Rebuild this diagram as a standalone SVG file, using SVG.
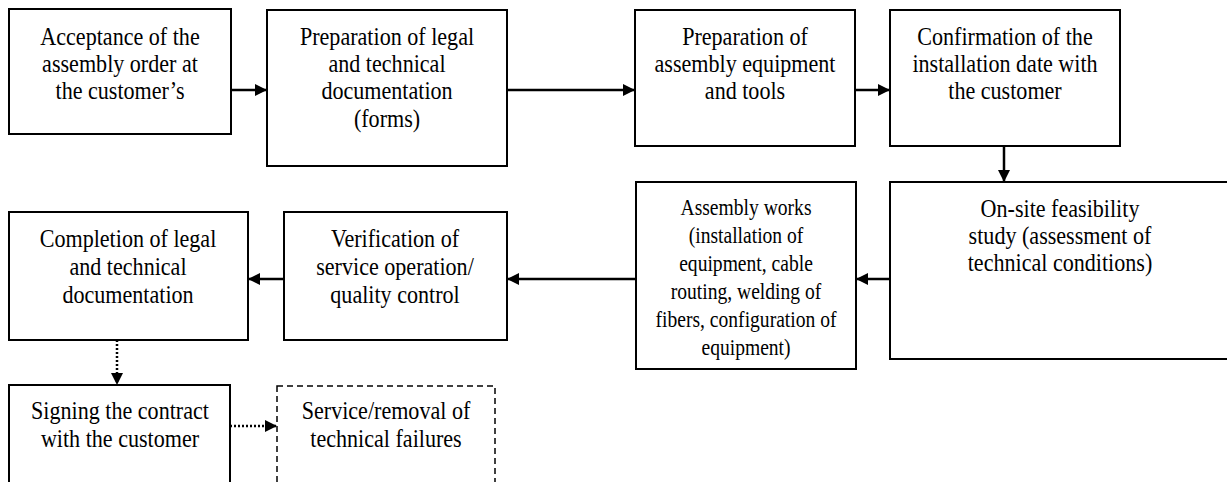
<svg xmlns="http://www.w3.org/2000/svg" width="1227" height="482" viewBox="0 0 1227 482">
<style>
.box{fill:#fff;stroke:#000;stroke-width:2}
.dash{fill:#fff;stroke:#000;stroke-width:1.5;stroke-dasharray:6,4}
text{font-family:"Liberation Serif","Times New Roman",serif;font-size:26px;fill:#000;text-anchor:middle}
.sm{font-size:22.5px}
.c{fill:none;stroke:#000;stroke-width:2.5}
.d{fill:none;stroke:#000;stroke-width:2.5;stroke-dasharray:2,2}
</style>
<defs>
<marker id="ah" viewBox="0 0 12 12" refX="12" refY="6" markerWidth="12" markerHeight="12" markerUnits="userSpaceOnUse" orient="auto">
<path d="M0,0L12,6L0,12z" fill="#000"/>
</marker>
</defs>
<g id="connectors">
<line class="c" x1="231" y1="90" x2="267" y2="90" marker-end="url(#ah)"/>
<line class="c" x1="507" y1="90" x2="635" y2="90" marker-end="url(#ah)"/>
<line class="c" x1="855" y1="90" x2="890" y2="90" marker-end="url(#ah)"/>
<line class="c" x1="1004" y1="146" x2="1004" y2="182" marker-end="url(#ah)"/>
<line class="c" x1="890" y1="279" x2="856" y2="279" marker-end="url(#ah)"/>
<line class="c" x1="636" y1="279" x2="507" y2="279" marker-end="url(#ah)"/>
<line class="c" x1="284" y1="279" x2="248" y2="279" marker-end="url(#ah)"/>
<line class="d" x1="117" y1="340" x2="117" y2="385" marker-end="url(#ah)"/>
<line class="d" x1="230" y1="426" x2="277" y2="426" marker-end="url(#ah)"/>
</g>
<g id="n1">
<rect class="box" x="9" y="9" width="222" height="125"/>
<g transform="translate(120 0) scale(0.85 1)">
<text x="0" y="45">Acceptance of the</text>
<text x="0" y="72">assembly order at</text>
<text x="0" y="99">the customer’s</text>
</g>
</g>
<g id="n2">
<rect class="box" x="267" y="10" width="240" height="156"/>
<g transform="translate(387 0) scale(0.85 1)">
<text x="0" y="45">Preparation of legal</text>
<text x="0" y="72">and technical</text>
<text x="0" y="99">documentation</text>
<text x="0" y="127">(forms)</text>
</g>
</g>
<g id="n3">
<rect class="box" x="635" y="10" width="220" height="136"/>
<g transform="translate(745 0) scale(0.85 1)">
<text x="0" y="45">Preparation of</text>
<text x="0" y="72">assembly equipment</text>
<text x="0" y="99">and tools</text>
</g>
</g>
<g id="n4">
<rect class="box" x="890" y="10" width="230" height="136"/>
<g transform="translate(1005 0) scale(0.85 1)">
<text x="0" y="45">Confirmation of the</text>
<text x="0" y="72">installation date with</text>
<text x="0" y="99">the customer</text>
</g>
</g>
<g id="n5">
<rect class="box" x="890" y="182" width="345" height="177"/>
<g transform="translate(1060 0) scale(0.85 1)">
<text x="0" y="217">On-site feasibility</text>
<text x="0" y="244">study (assessment of</text>
<text x="0" y="271">technical conditions)</text>
</g>
</g>
<g id="n6">
<rect class="box" x="636" y="182" width="220" height="187"/>
<g transform="translate(746 0) scale(0.87 1)">
<text class="sm" x="0" y="215">Assembly works</text>
<text class="sm" x="0" y="243">(installation of</text>
<text class="sm" x="0" y="271">equipment, cable</text>
<text class="sm" x="0" y="299">routing, welding of</text>
<text class="sm" x="0" y="327">fibers, configuration of</text>
<text class="sm" x="0" y="355">equipment)</text>
</g>
</g>
<g id="n7">
<rect class="box" x="284" y="212" width="223" height="128"/>
<g transform="translate(395 0) scale(0.85 1)">
<text x="0" y="247">Verification of</text>
<text x="0" y="275">service operation/</text>
<text x="0" y="303">quality control</text>
</g>
</g>
<g id="n8">
<rect class="box" x="9" y="212" width="239" height="128"/>
<g transform="translate(128 0) scale(0.85 1)">
<text x="0" y="247">Completion of legal</text>
<text x="0" y="275">and technical</text>
<text x="0" y="303">documentation</text>
</g>
</g>
<g id="n9">
<rect class="box" x="9" y="385" width="221" height="110"/>
<g transform="translate(120 0) scale(0.85 1)">
<text x="0" y="419">Signing the contract</text>
<text x="0" y="447">with the customer</text>
</g>
</g>
<g id="n10">
<rect class="dash" x="277" y="386" width="218" height="110"/>
<g transform="translate(386 0) scale(0.85 1)">
<text x="0" y="419">Service/removal of</text>
<text x="0" y="447">technical failures</text>
</g>
</g>
</svg>
